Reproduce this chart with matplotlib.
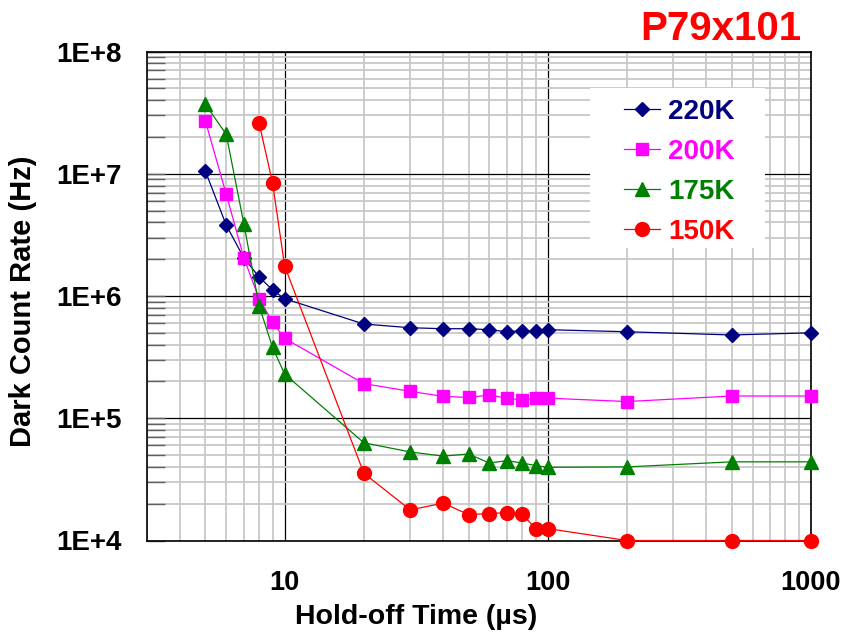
import matplotlib
matplotlib.use('Agg')
import matplotlib.pyplot as plt
from matplotlib.patches import Rectangle
from matplotlib.ticker import LogLocator, NullFormatter, FixedLocator, FixedFormatter

plt.rcParams['font.family'] = ['Liberation Sans', 'DejaVu Sans']
plt.rcParams['font.weight'] = 'bold'

# data
holdoff = [5, 6, 7, 8, 9, 10, 20, 30, 40, 50, 60, 70, 80, 90, 100, 200, 500, 1000]
holdoff_150 = [8, 9, 10, 20, 30, 40, 50, 60, 70, 80, 90, 100, 200, 500, 1000]

dcr_220 = [1.05e7, 3.8e6, 2.05e6, 1.43e6, 1.12e6, 9.5e5, 5.9e5, 5.5e5, 5.4e5, 5.4e5,
           5.3e5, 5.1e5, 5.2e5, 5.2e5, 5.3e5, 5.1e5, 4.8e5, 5.0e5]
dcr_200 = [2.7e7, 6.8e6, 2.05e6, 9.5e5, 6.1e5, 4.5e5, 1.92e5, 1.66e5, 1.51e5, 1.48e5,
           1.55e5, 1.46e5, 1.41e5, 1.46e5, 1.46e5, 1.37e5, 1.52e5, 1.52e5]
dcr_175 = [3.7e7, 2.1e7, 3.9e6, 8.3e5, 3.8e5, 2.3e5, 6.3e4, 5.3e4, 4.9e4, 5.1e4,
           4.3e4, 4.5e4, 4.3e4, 4.1e4, 3.97e4, 4.0e4, 4.4e4, 4.4e4]
dcr_150 = [2.6e7, 8.4e6, 1.76e6, 3.55e4, 1.78e4, 2.02e4, 1.63e4, 1.66e4, 1.69e4,
           1.65e4, 1.24e4, 1.25e4, 1.0e4, 1.0e4, 1.0e4]

x_ticks = [10, 100, 1000]
x_labels = ['10', '100', '1000']
y_ticks = [1e4, 1e5, 1e6, 1e7, 1e8]
y_labels = ['1E+4', '1E+5', '1E+6', '1E+7', '1E+8']

fig = plt.figure(figsize=(8.42, 6.34), dpi=100)
ax = fig.add_axes([147 / 842, 1 - 540.5 / 634, (811 - 147) / 842, (540.5 - 51.5) / 634])

ax.plot(holdoff, dcr_220, '-D', color='#000080', lw=0.9, ms=7, label='220K', clip_on=False, zorder=5)
ax.plot(holdoff, dcr_200, '-s', color='#ff00ff', lw=0.9, ms=9, label='200K', clip_on=False, zorder=5)
ax.plot(holdoff, dcr_175, '-^', color='#008000', lw=0.9, ms=9.5, label='175K', clip_on=False, zorder=5)
ax.plot(holdoff_150, dcr_150, '-o', color='#ff0000', lw=0.9, ms=10, label='150K', clip_on=False, zorder=5)

ax.set_xscale('log')
ax.set_yscale('log')
ax.set_xlim(3, 1000)
ax.set_ylim(1e4, 1e8)

ax.xaxis.set_major_locator(FixedLocator(x_ticks))
ax.xaxis.set_major_formatter(FixedFormatter(x_labels))
ax.yaxis.set_major_locator(FixedLocator(y_ticks))
ax.yaxis.set_major_formatter(FixedFormatter(y_labels))
ax.xaxis.set_minor_locator(LogLocator(subs=range(2, 10)))
ax.yaxis.set_minor_locator(LogLocator(subs=range(2, 10)))
ax.xaxis.set_minor_formatter(NullFormatter())
ax.yaxis.set_minor_formatter(NullFormatter())

ax.grid(which='minor', color='#c8c8c8', lw=1.3)
ax.grid(which='major', color='black', lw=0.9)
ax.set_axisbelow(True)

ax.tick_params(which='both', direction='in', length=0)
ax.tick_params(axis='y', which='both', left=True, length=13, color='#606060', width=1)
ax.tick_params(axis='x', which='major', pad=21, labelsize=19.5)
ax.tick_params(axis='y', which='major', pad=18, labelsize=20)
for s in ax.spines.values():
    s.set_linewidth(1.2)
for lab in ax.get_xticklabels() + ax.get_yticklabels():
    lab.set_fontweight('bold')

ax.set_xlabel('Hold-off Time (µs)', fontsize=20.5, fontweight='bold')
ax.xaxis.set_label_coords(0.405, -0.129)
ax.set_ylabel('Dark Count Rate (Hz)', fontsize=21, fontweight='bold')
ax.yaxis.set_label_coords(-0.166, 0.49)

fig.text(801 / 842, 1 - 40 / 634, 'P79x101', color='#ff0000', fontsize=29,
         fontweight='bold', ha='right', va='baseline')

# white box behind the legend
ax.add_patch(Rectangle((590 / 842, 1 - 248 / 634), 175 / 842, 160 / 634,
                       transform=fig.transFigure, facecolor='white',
                       edgecolor='none', zorder=8, clip_on=False))

leg = ax.legend(loc='center', bbox_to_anchor=(679 / 842, 1 - 172 / 634),
                bbox_transform=fig.transFigure, frameon=False,
                handlelength=1.3, handletextpad=0.3, labelspacing=0.5,
                borderpad=0, prop={'weight': 'bold', 'size': 20})
leg.set_zorder(10)
for txt, line in zip(leg.get_texts(), leg.get_lines()):
    txt.set_color(line.get_color())

fig.savefig('out.png', dpi=100)
